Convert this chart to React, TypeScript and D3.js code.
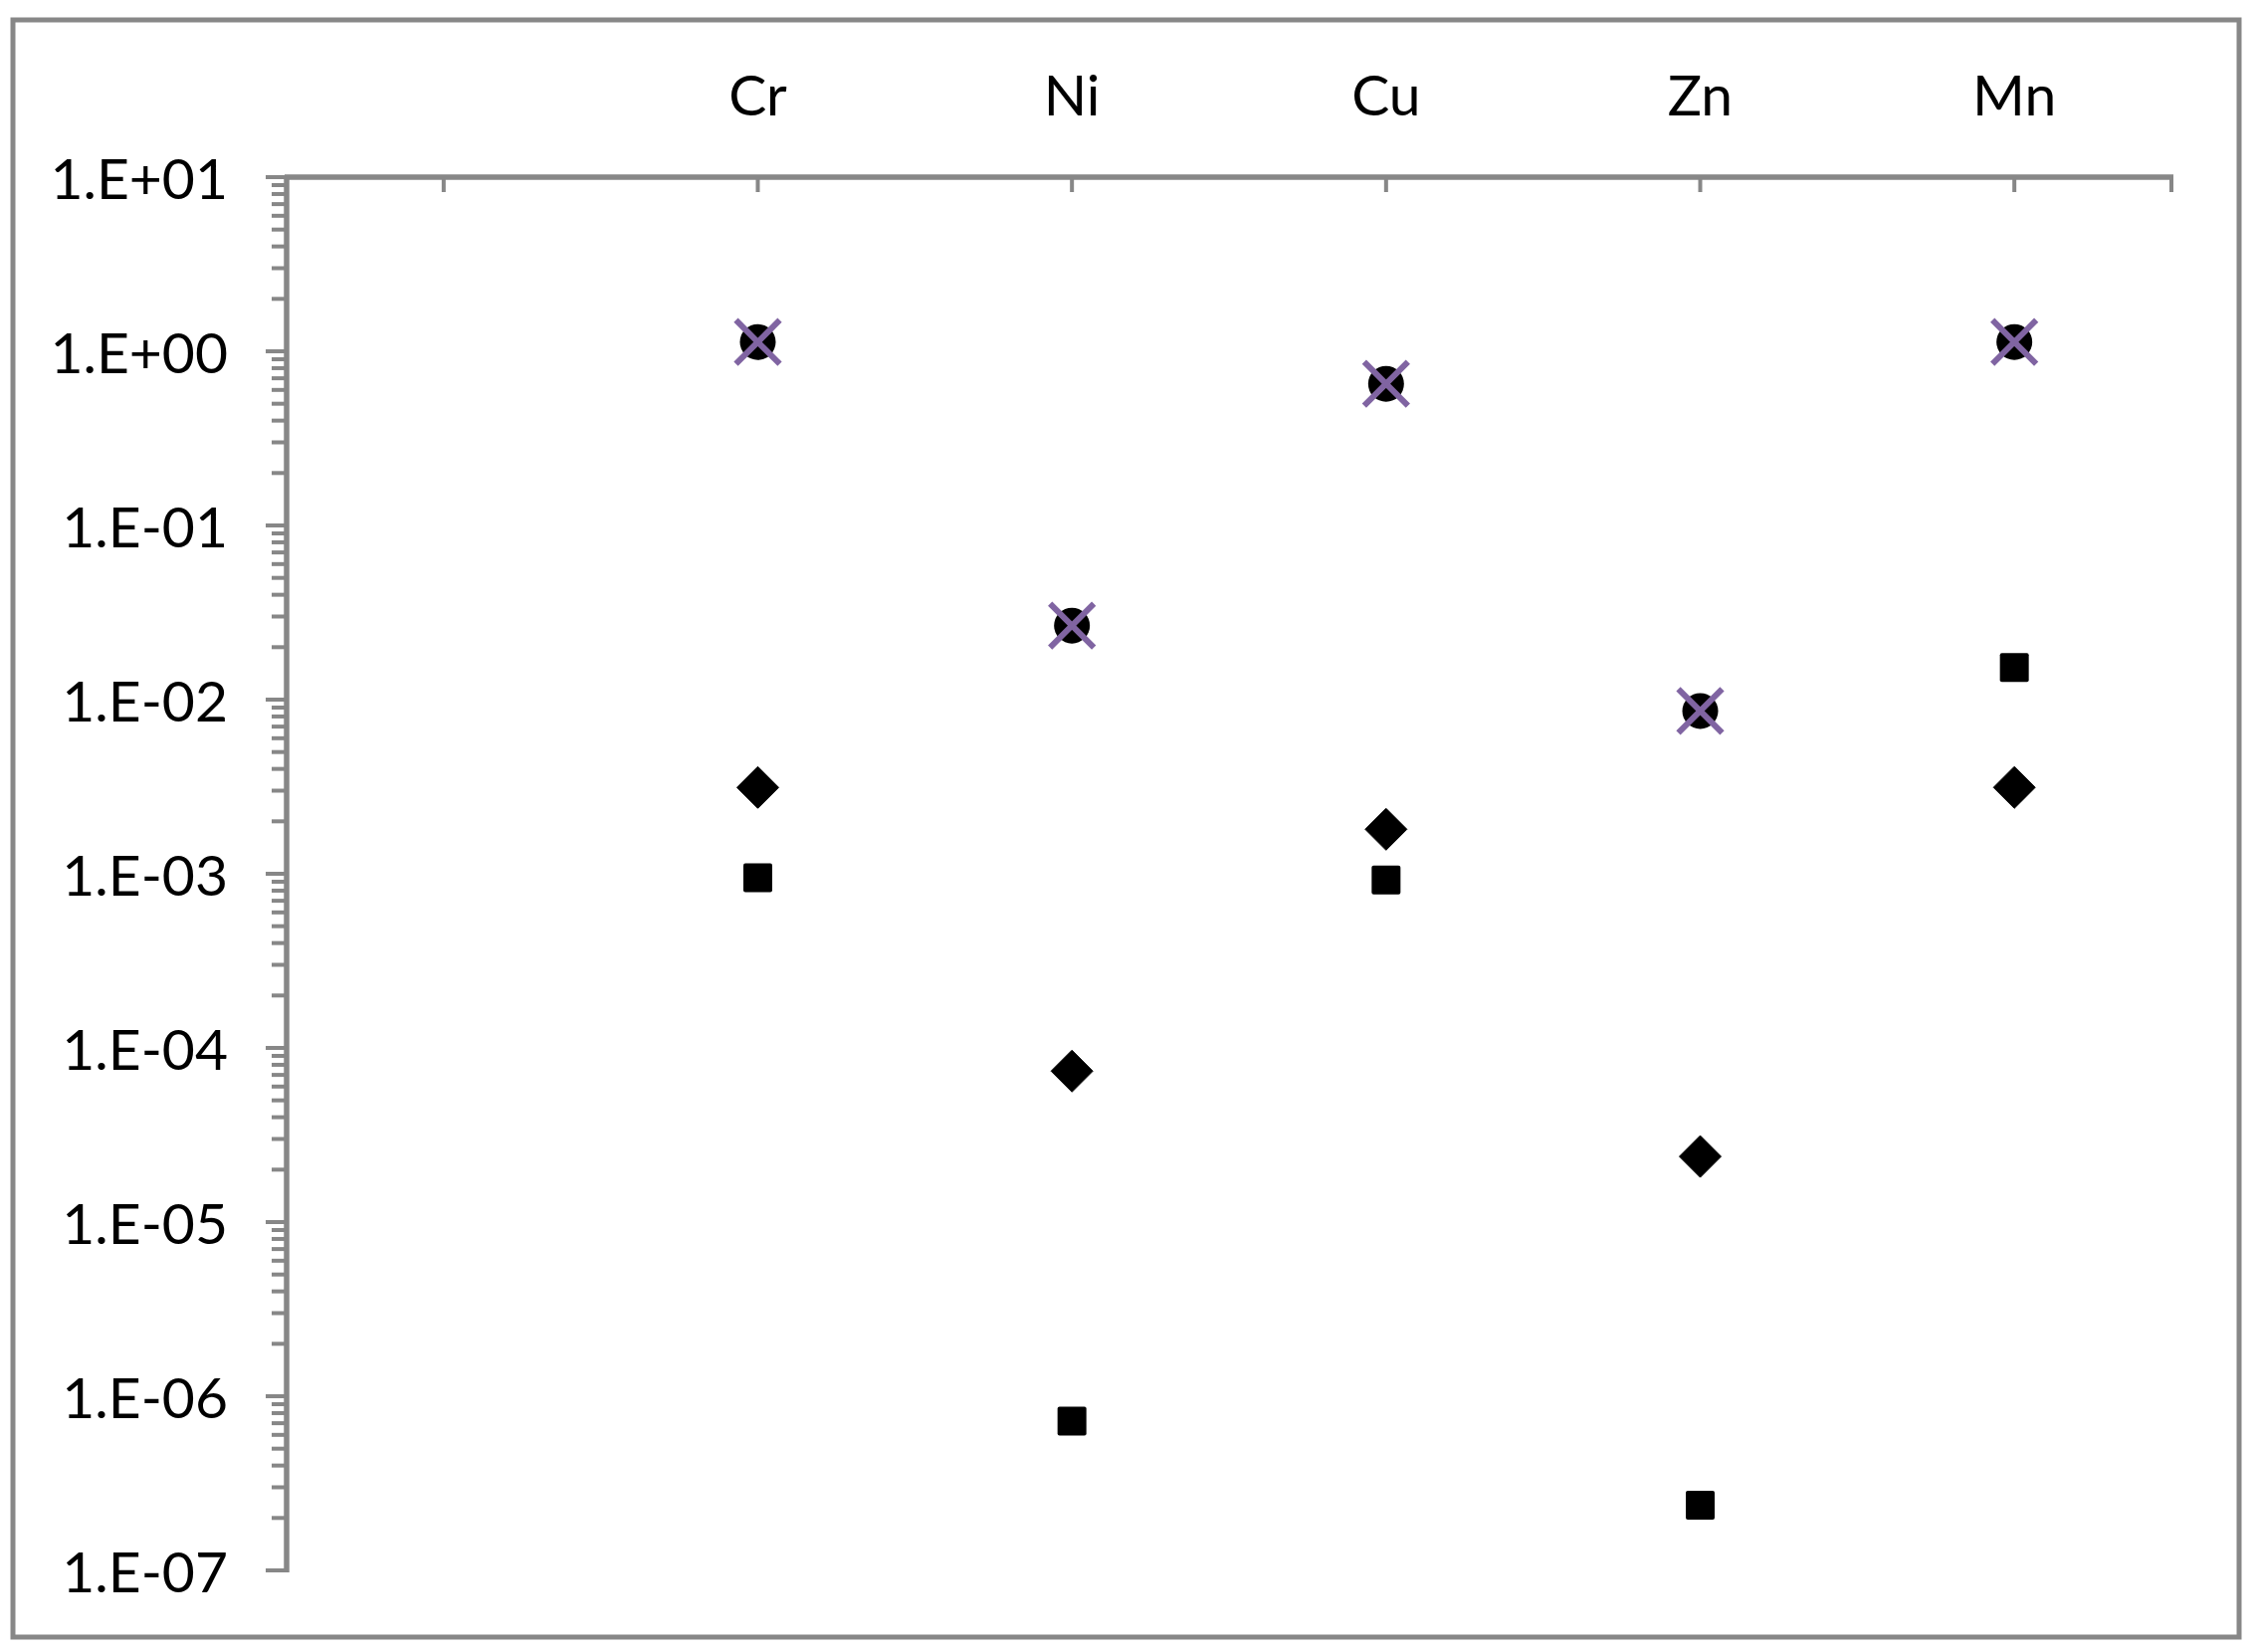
import React from "react";
import * as d3 from "d3";

const categories = ["Cr", "Ni", "Cu", "Zn", "Mn"];
const circleValues = [1.13, 0.0266, 0.65, 0.0086, 1.13];
const crossValues = [1.13, 0.0266, 0.65, 0.0086, 1.13];
const diamondValues = [0.00313, 0.0000736, 0.0018, 0.0000238, 0.00313];
const squareValues = [0.00095, 0.00000072, 0.00092, 0.000000237, 0.0153];
const yTickValues = [1e1, 1e0, 1e-1, 1e-2, 1e-3, 1e-4, 1e-5, 1e-6, 1e-7];

const W = 2269;
const H = 1660;
const AXIS = "#878787";
const PURPLE = "#8064A2";
const FONT = "Lato, 'Open Sans', sans-serif";

function fmtExp(v: number): string {
  const e = Math.round(Math.log10(v));
  const sign = e < 0 ? "-" : "+";
  const a = Math.abs(e);
  return `1.E${sign}${a < 10 ? "0" + a : a}`;
}

export default function App() {
  const x = d3.scaleLinear().domain([-0.5, 5.5]).range([288, 2182]);
  const y = d3.scaleLog().domain([1e-7, 10]).range([1578, 178]);

  const minorTicks: number[] = [];
  for (let e = -7; e < 1; e++) {
    for (let m = 2; m <= 9; m++) minorTicks.push(m * Math.pow(10, e));
  }
  const xTicks = [0, 1, 2, 3, 4, 5, 5.5];

  const sq = 29;
  const dm = 21;
  const cr = 18;
  const xr = 22;

  return (
    <div style={{ position: "absolute", left: 0, top: 0 }}>
      <svg width={W} height={H} style={{ display: "block", background: "#fff" }}>
        <rect x={0} y={0} width={W} height={H} fill="#fff" />
        {/* outer border */}
        <rect x={13} y={20} width={2237} height={1625} fill="none" stroke={AXIS} strokeWidth={5} />

        {/* minor ticks */}
        {minorTicks.map((t, i) => (
          <line key={"mn" + i} x1={288} x2={273} y1={y(t)} y2={y(t)} stroke={AXIS} strokeWidth={4} />
        ))}
        {/* major ticks */}
        {yTickValues.map((t, i) => (
          <line key={"mj" + i} x1={288} x2={267} y1={y(t)} y2={y(t)} stroke={AXIS} strokeWidth={4} />
        ))}
        {/* x ticks (inside, downward from top axis) */}
        {xTicks.map((t, i) => (
          <line key={"xt" + i} x1={x(t)} x2={x(t)} y1={y(10)} y2={y(10) + 15} stroke={AXIS} strokeWidth={4} />
        ))}
        {/* axes */}
        <line x1={288} x2={288} y1={y(10) - 2} y2={y(1e-7) + 2} stroke={AXIS} strokeWidth={5.5} />
        <line x1={286} x2={x(5.5) + 2} y1={y(10)} y2={y(10)} stroke={AXIS} strokeWidth={5.5} />

        {/* y tick labels */}
        {yTickValues.map((t, i) => (
          <text key={"yl" + i} x={229} y={y(t)} textAnchor="end" dominantBaseline="central"
            fontFamily={FONT} fontSize={57} fill="#000">{fmtExp(t)}</text>
        ))}
        {/* category labels */}
        {categories.map((c, i) => (
          <text key={"cl" + i} x={x(i + 1)} y={94} textAnchor="middle" dominantBaseline="central"
            fontFamily={FONT} fontSize={57} fill="#000">{c}</text>
        ))}

        {/* squares */}
        {squareValues.map((v, i) => (
          <rect key={"sq" + i} x={x(i + 1) - sq / 2} y={y(v) - sq / 2} width={sq} height={sq} rx={2} fill="#000" />
        ))}
        {/* diamonds */}
        {diamondValues.map((v, i) => (
          <path key={"dm" + i}
            d={`M${x(i + 1)},${y(v) - dm} L${x(i + 1) + dm},${y(v)} L${x(i + 1)},${y(v) + dm} L${x(i + 1) - dm},${y(v)} Z`}
            fill="#000" stroke="#000" strokeWidth={1} strokeLinejoin="round" />
        ))}
        {/* circles */}
        {circleValues.map((v, i) => (
          <circle key={"ci" + i} cx={x(i + 1)} cy={y(v)} r={cr} fill="#000" />
        ))}
        {/* crosses */}
        {crossValues.map((v, i) => (
          <g key={"cx" + i} stroke={PURPLE} strokeWidth={6}>
            <line x1={x(i + 1) - xr} y1={y(v) - xr} x2={x(i + 1) + xr} y2={y(v) + xr} />
            <line x1={x(i + 1) - xr} y1={y(v) + xr} x2={x(i + 1) + xr} y2={y(v) - xr} />
          </g>
        ))}
      </svg>
    </div>
  );
}
